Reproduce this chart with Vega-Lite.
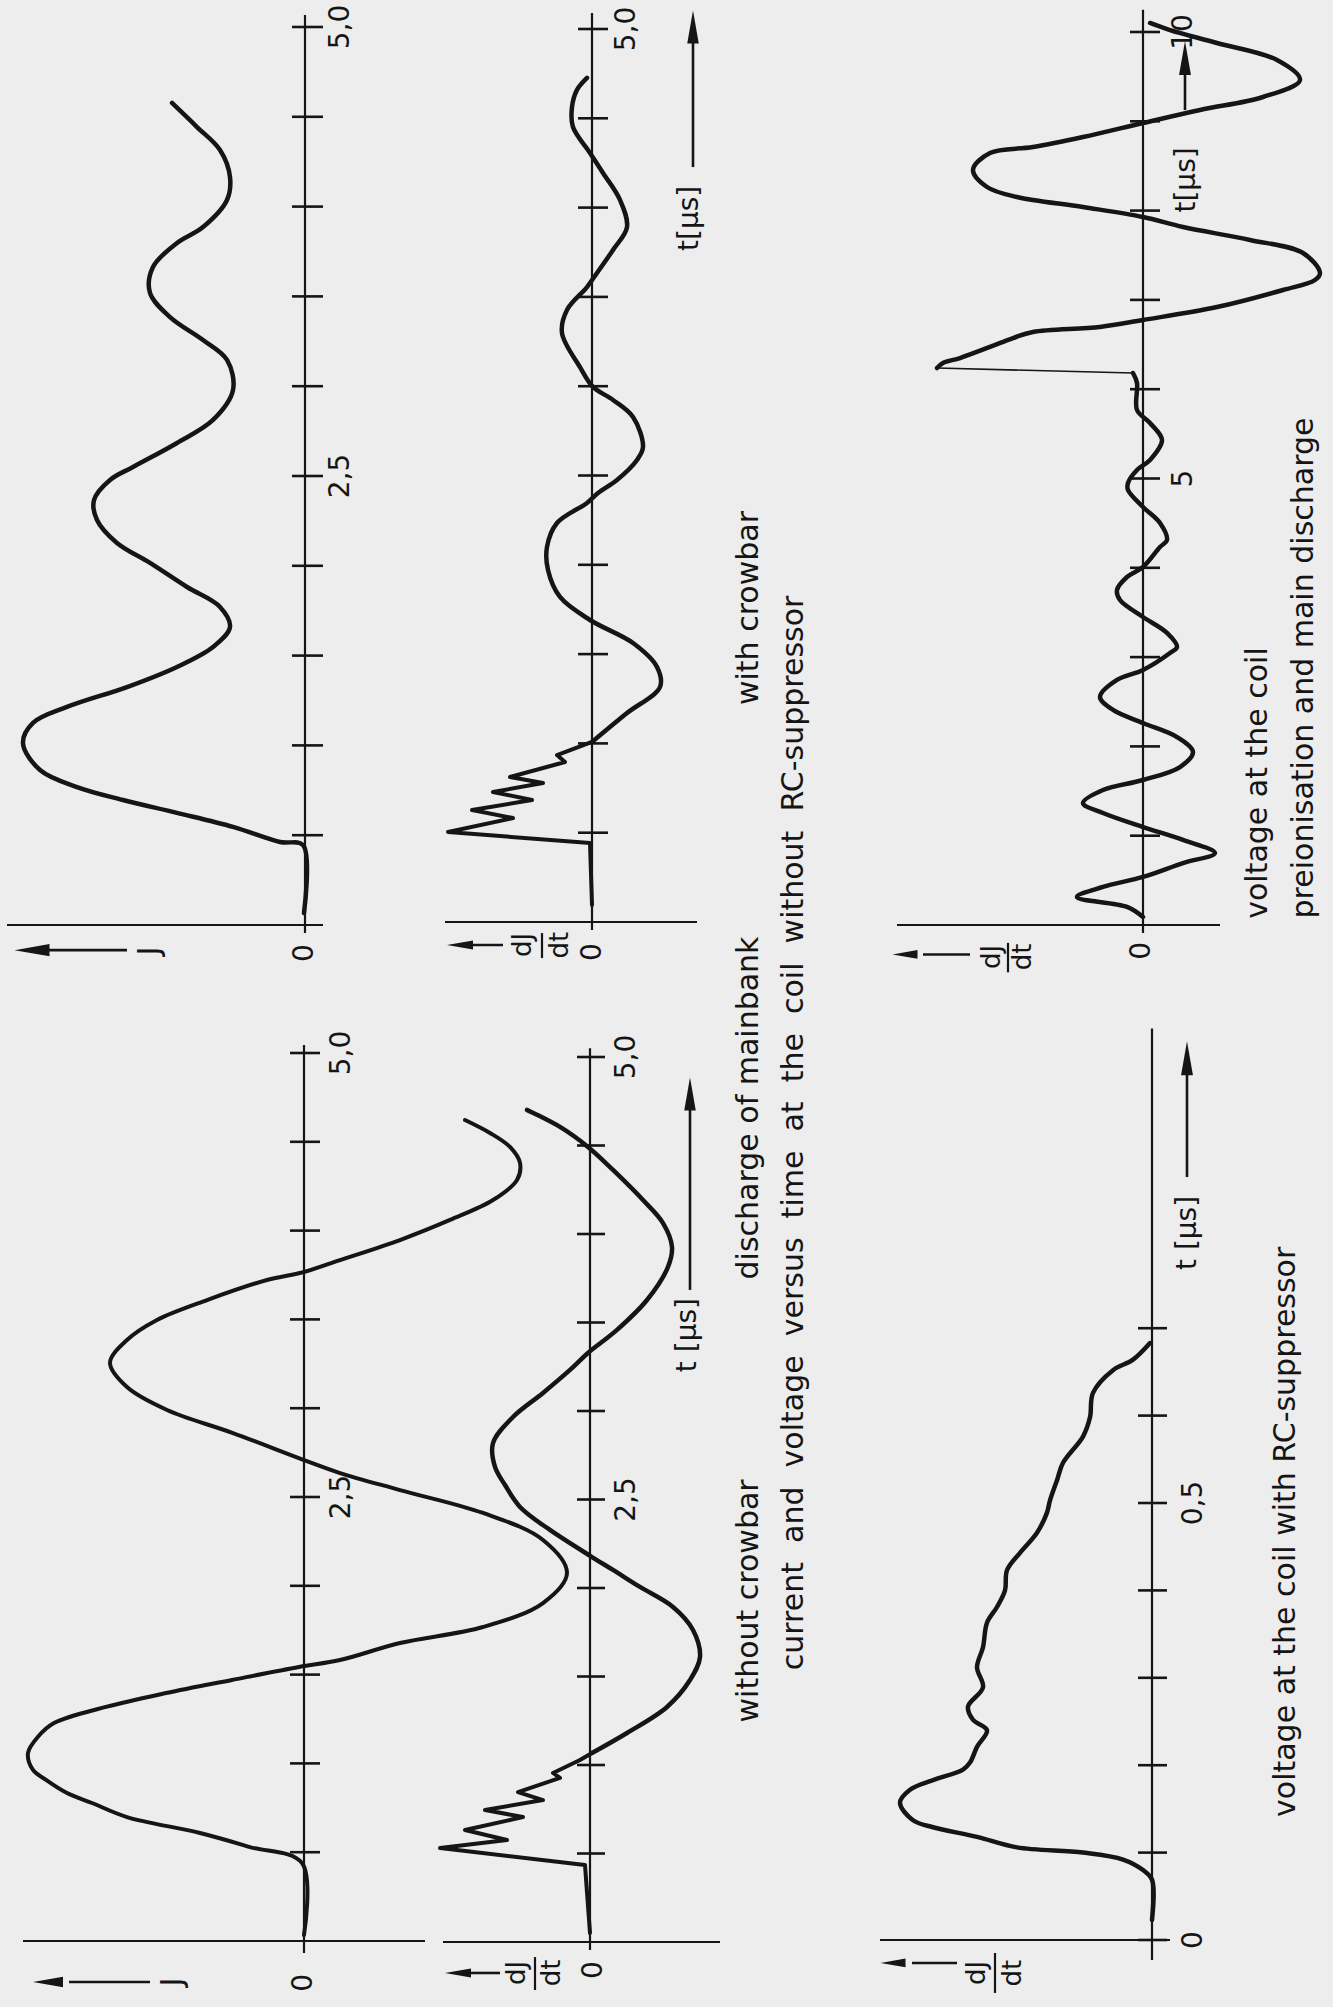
{
"$schema": "https://vega.github.io/schema/vega-lite/v6.json",
"width": 1333, "height": 2007, "padding": 0, "autosize": "none",
"background": "#ededed",
"config": {"view": {"stroke": null}},
"data": {"values": [{"k": 0}]},
"datasets": {
"p1": [{"t":0.067,"v":0.01},{"t":0.445,"v":0.02},{"t":0.462,"v":0.25},{"t":0.546,"v":0.72},{"t":0.624,"v":1.28},{"t":0.696,"v":1.82},{"t":0.768,"v":2.28},{"t":0.863,"v":2.65},{"t":1.013,"v":2.82},{"t":1.125,"v":2.72},{"t":1.214,"v":2.38},{"t":1.325,"v":1.78},{"t":1.437,"v":1.28},{"t":1.548,"v":0.92},{"t":1.659,"v":0.75},{"t":1.771,"v":0.85},{"t":1.882,"v":1.18},{"t":2.016,"v":1.55},{"t":2.127,"v":1.88},{"t":2.255,"v":2.08},{"t":2.366,"v":2.11},{"t":2.478,"v":1.95},{"t":2.55,"v":1.72},{"t":2.684,"v":1.28},{"t":2.812,"v":0.92},{"t":2.979,"v":0.72},{"t":3.146,"v":0.78},{"t":3.257,"v":1.02},{"t":3.385,"v":1.35},{"t":3.519,"v":1.55},{"t":3.664,"v":1.52},{"t":3.797,"v":1.28},{"t":3.886,"v":1.02},{"t":4.037,"v":0.78},{"t":4.165,"v":0.75},{"t":4.315,"v":0.85},{"t":4.443,"v":1.08},{"t":4.577,"v":1.33}],
"p2z": [{"t":0.095,"v":0},{"t":0.442,"v":0.02},{"t":0.504,"v":1.44},{"t":0.582,"v":0.79},{"t":0.627,"v":1.2},{"t":0.683,"v":0.6},{"t":0.728,"v":0.99},{"t":0.778,"v":0.49},{"t":0.812,"v":0.82},{"t":0.896,"v":0.27},{"t":0.935,"v":0.35},{"t":1.008,"v":0}],
"p2s": [{"t":1.008,"v":0},{"t":1.17,"v":-0.35},{"t":1.316,"v":-0.68},{"t":1.428,"v":-0.65},{"t":1.562,"v":-0.41},{"t":1.691,"v":0.02},{"t":1.82,"v":0.32},{"t":1.971,"v":0.44},{"t":2.1,"v":0.45},{"t":2.234,"v":0.35},{"t":2.346,"v":0.05},{"t":2.402,"v":-0.06},{"t":2.475,"v":-0.25},{"t":2.587,"v":-0.45},{"t":2.66,"v":-0.51},{"t":2.828,"v":-0.41},{"t":2.923,"v":-0.21},{"t":2.996,"v":-0.01},{"t":3.107,"v":0.12},{"t":3.298,"v":0.3},{"t":3.427,"v":0.25},{"t":3.555,"v":0.05},{"t":3.634,"v":-0.05},{"t":3.763,"v":-0.21},{"t":3.891,"v":-0.35},{"t":4.043,"v":-0.28},{"t":4.194,"v":-0.11},{"t":4.306,"v":0.02},{"t":4.451,"v":0.19},{"t":4.563,"v":0.2},{"t":4.659,"v":0.15},{"t":4.726,"v":0.05}],
"p3": [{"t":0.034,"v":0},{"t":0.439,"v":0.02},{"t":0.529,"v":0.54},{"t":0.608,"v":1.04},{"t":0.698,"v":1.77},{"t":0.777,"v":2.12},{"t":0.833,"v":2.37},{"t":0.907,"v":2.58},{"t":0.963,"v":2.71},{"t":1.059,"v":2.76},{"t":1.15,"v":2.66},{"t":1.227,"v":2.5},{"t":1.318,"v":1.98},{"t":1.396,"v":1.38},{"t":1.47,"v":0.72},{"t":1.543,"v":0.05},{"t":1.582,"v":-0.36},{"t":1.678,"v":-0.96},{"t":1.768,"v":-1.79},{"t":1.903,"v":-2.39},{"t":2.072,"v":-2.63},{"t":2.258,"v":-2.39},{"t":2.41,"v":-1.79},{"t":2.539,"v":-0.96},{"t":2.635,"v":-0.36},{"t":2.708,"v":0},{"t":2.86,"v":0.71},{"t":2.99,"v":1.37},{"t":3.119,"v":1.77},{"t":3.255,"v":1.94},{"t":3.384,"v":1.77},{"t":3.497,"v":1.47},{"t":3.609,"v":0.97},{"t":3.722,"v":0.37},{"t":3.767,"v":0},{"t":3.834,"v":-0.36},{"t":3.947,"v":-0.96},{"t":4.06,"v":-1.46},{"t":4.172,"v":-1.89},{"t":4.285,"v":-2.13},{"t":4.381,"v":-2.16},{"t":4.471,"v":-2.06},{"t":4.55,"v":-1.86},{"t":4.623,"v":-1.61}],
"p4z": [{"t":0.051,"v":0},{"t":0.435,"v":0.05},{"t":0.531,"v":1.5},{"t":0.576,"v":0.83},{"t":0.633,"v":1.25},{"t":0.706,"v":0.67},{"t":0.746,"v":1.05},{"t":0.802,"v":0.47},{"t":0.847,"v":0.72},{"t":0.927,"v":0.3},{"t":0.955,"v":0.37},{"t":1.028,"v":0.1},{"t":1.068,"v":-0.02}],
"p4s": [{"t":1.068,"v":-0.02},{"t":1.181,"v":-0.37},{"t":1.328,"v":-0.77},{"t":1.48,"v":-1.0},{"t":1.61,"v":-1.1},{"t":1.763,"v":-1.03},{"t":1.893,"v":-0.83},{"t":2.006,"v":-0.5},{"t":2.102,"v":-0.23},{"t":2.175,"v":-0.02},{"t":2.328,"v":0.4},{"t":2.458,"v":0.7},{"t":2.582,"v":0.85},{"t":2.684,"v":0.95},{"t":2.819,"v":0.97},{"t":2.966,"v":0.77},{"t":3.102,"v":0.47},{"t":3.232,"v":0.2},{"t":3.328,"v":0.02},{"t":3.458,"v":-0.27},{"t":3.627,"v":-0.57},{"t":3.814,"v":-0.78},{"t":3.927,"v":-0.82},{"t":4.062,"v":-0.73},{"t":4.192,"v":-0.53},{"t":4.362,"v":-0.23},{"t":4.492,"v":0.02},{"t":4.605,"v":0.3},{"t":4.701,"v":0.63}],
"p5": [{"seg":"pre","t":0.09,"v":0},{"seg":"pre","t":0.202,"v":0.16},{"seg":"pre","t":0.314,"v":0.66},{"seg":"pre","t":0.426,"v":0.4},{"seg":"pre","t":0.538,"v":0},{"seg":"pre","t":0.694,"v":-0.4},{"seg":"pre","t":0.806,"v":-0.72},{"seg":"pre","t":0.952,"v":-0.4},{"seg":"pre","t":1.097,"v":0},{"seg":"pre","t":1.254,"v":0.4},{"seg":"pre","t":1.366,"v":0.6},{"seg":"pre","t":1.512,"v":0.4},{"seg":"pre","t":1.624,"v":0},{"seg":"pre","t":1.769,"v":-0.37},{"seg":"pre","t":1.937,"v":-0.5},{"seg":"pre","t":2.105,"v":-0.34},{"seg":"pre","t":2.262,"v":0},{"seg":"pre","t":2.408,"v":0.3},{"seg":"pre","t":2.553,"v":0.43},{"seg":"pre","t":2.744,"v":0.26},{"seg":"pre","t":2.856,"v":0},{"seg":"pre","t":3.046,"v":-0.27},{"seg":"pre","t":3.113,"v":-0.34},{"seg":"pre","t":3.27,"v":-0.24},{"seg":"pre","t":3.449,"v":0},{"seg":"pre","t":3.639,"v":0.23},{"seg":"pre","t":3.751,"v":0.26},{"seg":"pre","t":3.897,"v":0.16},{"seg":"pre","t":4.009,"v":0},{"seg":"pre","t":4.233,"v":-0.17},{"seg":"pre","t":4.311,"v":-0.24},{"seg":"pre","t":4.502,"v":-0.17},{"seg":"pre","t":4.681,"v":0},{"seg":"pre","t":4.871,"v":0.15},{"seg":"pre","t":4.95,"v":0.15},{"seg":"pre","t":5.095,"v":0.06},{"seg":"pre","t":5.207,"v":-0.07},{"seg":"pre","t":5.431,"v":-0.19},{"seg":"pre","t":5.622,"v":-0.07},{"seg":"pre","t":5.767,"v":0.06},{"seg":"pre","t":6.069,"v":0.06},{"seg":"pre","t":6.181,"v":0.1},
{"seg":"main","t":6.237,"v":2.06},{"seg":"main","t":6.293,"v":2.0},{"seg":"main","t":6.349,"v":1.83},{"seg":"main","t":6.473,"v":1.53},{"seg":"main","t":6.573,"v":1.3},{"seg":"main","t":6.641,"v":1.1},{"seg":"main","t":6.697,"v":0.43},{"seg":"main","t":6.775,"v":0},{"seg":"main","t":6.92,"v":-0.74},{"seg":"main","t":7.111,"v":-1.4},{"seg":"main","t":7.223,"v":-1.72},{"seg":"main","t":7.301,"v":-1.77},{"seg":"main","t":7.525,"v":-1.6},{"seg":"main","t":7.671,"v":-1.07},{"seg":"main","t":7.816,"v":-0.4},{"seg":"main","t":7.928,"v":0},{"seg":"main","t":8.04,"v":0.6},{"seg":"main","t":8.152,"v":1.26},{"seg":"main","t":8.264,"v":1.56},{"seg":"main","t":8.455,"v":1.7},{"seg":"main","t":8.645,"v":1.53},{"seg":"main","t":8.712,"v":1.1},{"seg":"main","t":8.824,"v":0.6},{"seg":"main","t":8.981,"v":0},{"seg":"main","t":9.127,"v":-0.57},{"seg":"main","t":9.272,"v":-1.2},{"seg":"main","t":9.462,"v":-1.57},{"seg":"main","t":9.686,"v":-1.34},{"seg":"main","t":9.877,"v":-0.74},{"seg":"main","t":10.022,"v":-0.27},{"seg":"main","t":10.101,"v":-0.07}],
"p5j": [{"t":6.181,"v":0.1},{"t":6.237,"v":2.06}],
"p6": [{"t":0.023,"v":0},{"t":0.069,"v":0},{"t":0.08,"v":0.09},{"t":0.092,"v":0.29},{"t":0.1,"v":0.69},{"t":0.106,"v":1.35},{"t":0.118,"v":1.75},{"t":0.129,"v":2.19},{"t":0.137,"v":2.39},{"t":0.157,"v":2.52},{"t":0.172,"v":2.42},{"t":0.183,"v":2.19},{"t":0.195,"v":1.89},{"t":0.203,"v":1.82},{"t":0.221,"v":1.75},{"t":0.24,"v":1.65},{"t":0.252,"v":1.79},{"t":0.267,"v":1.84},{"t":0.289,"v":1.69},{"t":0.312,"v":1.75},{"t":0.335,"v":1.69},{"t":0.363,"v":1.65},{"t":0.381,"v":1.55},{"t":0.4,"v":1.47},{"t":0.423,"v":1.45},{"t":0.443,"v":1.32},{"t":0.466,"v":1.15},{"t":0.489,"v":1.05},{"t":0.503,"v":1.02},{"t":0.526,"v":0.95},{"t":0.546,"v":0.89},{"t":0.576,"v":0.69},{"t":0.598,"v":0.62},{"t":0.626,"v":0.59},{"t":0.652,"v":0.39},{"t":0.664,"v":0.19},{"t":0.683,"v":0.02}],
"kJ": [{"t":0.5,"label":""},{"t":1,"label":""},{"t":1.5,"label":""},{"t":2,"label":""},{"t":2.5,"label":"2,5"},{"t":3,"label":""},{"t":3.5,"label":""},{"t":4,"label":""},{"t":4.5,"label":""},{"t":5,"label":"5,0"}],
"kJ2": [{"t":0.5,"label":""},{"t":1,"label":""},{"t":1.5,"label":""},{"t":2,"label":""},{"t":2.5,"label":""},{"t":3,"label":""},{"t":3.5,"label":""},{"t":4,"label":""},{"t":4.5,"label":""},{"t":5,"label":"5,0"}],
"k5": [{"t":1,"label":""},{"t":2,"label":""},{"t":3,"label":""},{"t":4,"label":""},{"t":5,"label":"5"},{"t":6,"label":""},{"t":7,"label":""},{"t":8,"label":""},{"t":9,"label":""},{"t":10,"label":"10"}],
"k6": [{"t":0,"label":"0"},{"t":0.1,"label":""},{"t":0.2,"label":""},{"t":0.3,"label":""},{"t":0.4,"label":""},{"t":0.5,"label":"0,5"},{"t":0.6,"label":""},{"t":0.7,"label":""}]
},
"layer": [
 {"data":{"name":"p1"},"mark":{"type":"line","interpolate":"catmull-rom","color":"#151515","strokeWidth":4.5,"strokeCap":"round","strokeJoin":"round"},"encoding":{"x":{"field":"v","type":"quantitative","scale":{"domain":[-10.28,3.05],"reverse":true,"nice":false,"zero":false},"axis":null},"y":{"field":"t","type":"quantitative","scale":{"domain":[-6.0245,5.1503],"nice":false,"zero":false},"axis":null},"order":{"field":"t","type":"quantitative"}}},
 {"mark":{"type":"rule","color":"#151515","strokeWidth":2.2},"encoding":{"x":{"datum":0,"type":"quantitative","scale":{"domain":[-10.28,3.05],"reverse":true,"nice":false,"zero":false},"axis":null},"y":{"datum":-0.045,"type":"quantitative","scale":{"domain":[-6.0245,5.1503],"nice":false,"zero":false},"axis":null},"y2":{"datum":5.067}}},
 {"mark":{"type":"rule","color":"#151515","strokeWidth":2.2},"encoding":{"y":{"datum":0,"type":"quantitative","scale":{"domain":[-6.0245,5.1503],"nice":false,"zero":false},"axis":null},"x":{"datum":2.98,"type":"quantitative","scale":{"domain":[-10.28,3.05],"reverse":true,"nice":false,"zero":false},"axis":null},"x2":{"datum":-0.18}}},
 {"data":{"name":"kJ"},"mark":{"type":"rule","color":"#151515","strokeWidth":2.6},"encoding":{"y":{"field":"t","type":"quantitative","scale":{"domain":[-6.0245,5.1503],"nice":false,"zero":false},"axis":null},"x":{"datum":0.13,"type":"quantitative","scale":{"domain":[-10.28,3.05],"reverse":true,"nice":false,"zero":false},"axis":null},"x2":{"datum":-0.18}}},
 {"data":{"name":"kJ"},"mark":{"type":"text","angle":270,"font":"DejaVu Sans","fontSize":28,"color":"#151515","align":"center","baseline":"top"},"encoding":{"y":{"field":"t","type":"quantitative","scale":{"domain":[-6.0245,5.1503],"nice":false,"zero":false},"axis":null},"x":{"datum":-0.22,"type":"quantitative","scale":{"domain":[-10.28,3.05],"reverse":true,"nice":false,"zero":false},"axis":null},"text":{"field":"label","type":"nominal"}}},
 {"mark":{"type":"text","text":"0","angle":270,"font":"DejaVu Sans","fontSize":28,"color":"#151515","align":"center","baseline":"middle"},"encoding":{"x":{"datum":0,"type":"quantitative","scale":{"domain":[-10.28,3.05],"reverse":true,"nice":false,"zero":false},"axis":null},"y":{"datum":-0.156,"type":"quantitative","scale":{"domain":[-6.0245,5.1503],"nice":false,"zero":false},"axis":null}}},
 {"mark":{"type":"text","text":"J","angle":270,"font":"DejaVu Sans","fontSize":30,"color":"#151515","align":"center","baseline":"middle"},"encoding":{"x":{"datum":1.55,"type":"quantitative","scale":{"domain":[-10.28,3.05],"reverse":true,"nice":false,"zero":false},"axis":null},"y":{"datum":-0.145,"type":"quantitative","scale":{"domain":[-6.0245,5.1503],"nice":false,"zero":false},"axis":null}}},
 {"mark":{"type":"rule","color":"#151515","strokeWidth":2.6},"encoding":{"y":{"datum":-0.14,"type":"quantitative","scale":{"domain":[-6.0245,5.1503],"nice":false,"zero":false},"axis":null},"x":{"datum":1.78,"type":"quantitative","scale":{"domain":[-10.28,3.05],"reverse":true,"nice":false,"zero":false},"axis":null},"x2":{"datum":2.6}}},
 {"mark":{"type":"point","shape":"M-1,0L1,-0.35L1,0.35Z","size":1225,"filled":true,"color":"#151515","opacity":1},"encoding":{"x":{"datum":2.73,"type":"quantitative","scale":{"domain":[-10.28,3.05],"reverse":true,"nice":false,"zero":false},"axis":null},"y":{"datum":-0.14,"type":"quantitative","scale":{"domain":[-6.0245,5.1503],"nice":false,"zero":false},"axis":null}}},

 {"data":{"name":"p2z"},"mark":{"type":"line","color":"#151515","strokeWidth":4,"strokeCap":"round","strokeJoin":"round"},"encoding":{"x":{"field":"v","type":"quantitative","scale":{"domain":[-7.41,5.92],"reverse":true,"nice":false,"zero":false},"axis":null},"y":{"field":"t","type":"quantitative","scale":{"domain":[-6.075,5.1624],"nice":false,"zero":false},"axis":null},"order":{"field":"t","type":"quantitative"}}},
 {"data":{"name":"p2s"},"mark":{"type":"line","interpolate":"catmull-rom","color":"#151515","strokeWidth":4.5,"strokeCap":"round","strokeJoin":"round"},"encoding":{"x":{"field":"v","type":"quantitative","scale":{"domain":[-7.41,5.92],"reverse":true,"nice":false,"zero":false},"axis":null},"y":{"field":"t","type":"quantitative","scale":{"domain":[-6.075,5.1624],"nice":false,"zero":false},"axis":null},"order":{"field":"t","type":"quantitative"}}},
 {"mark":{"type":"rule","color":"#151515","strokeWidth":2.2},"encoding":{"x":{"datum":0,"type":"quantitative","scale":{"domain":[-7.41,5.92],"reverse":true,"nice":false,"zero":false},"axis":null},"y":{"datum":-0.045,"type":"quantitative","scale":{"domain":[-6.075,5.1624],"nice":false,"zero":false},"axis":null},"y2":{"datum":5.09}}},
 {"mark":{"type":"rule","color":"#151515","strokeWidth":2.2},"encoding":{"y":{"datum":0,"type":"quantitative","scale":{"domain":[-6.075,5.1624],"nice":false,"zero":false},"axis":null},"x":{"datum":1.47,"type":"quantitative","scale":{"domain":[-7.41,5.92],"reverse":true,"nice":false,"zero":false},"axis":null},"x2":{"datum":-1.05}}},
 {"data":{"name":"kJ2"},"mark":{"type":"rule","color":"#151515","strokeWidth":2.6},"encoding":{"y":{"field":"t","type":"quantitative","scale":{"domain":[-6.075,5.1624],"nice":false,"zero":false},"axis":null},"x":{"datum":0.14,"type":"quantitative","scale":{"domain":[-7.41,5.92],"reverse":true,"nice":false,"zero":false},"axis":null},"x2":{"datum":-0.16}}},
 {"data":{"name":"kJ2"},"mark":{"type":"text","angle":270,"font":"DejaVu Sans","fontSize":28,"color":"#151515","align":"center","baseline":"top"},"encoding":{"y":{"field":"t","type":"quantitative","scale":{"domain":[-6.075,5.1624],"nice":false,"zero":false},"axis":null},"x":{"datum":-0.21,"type":"quantitative","scale":{"domain":[-7.41,5.92],"reverse":true,"nice":false,"zero":false},"axis":null},"text":{"field":"label","type":"nominal"}}},
 {"mark":{"type":"text","text":"0","angle":270,"font":"DejaVu Sans","fontSize":28,"color":"#151515","align":"center","baseline":"middle"},"encoding":{"x":{"datum":-0.01,"type":"quantitative","scale":{"domain":[-7.41,5.92],"reverse":true,"nice":false,"zero":false},"axis":null},"y":{"datum":-0.168,"type":"quantitative","scale":{"domain":[-6.075,5.1624],"nice":false,"zero":false},"axis":null}}},
 {"mark":{"type":"text","text":"dJ","angle":270,"font":"DejaVu Sans","fontSize":26,"color":"#151515","align":"center","baseline":"middle"},"encoding":{"x":{"datum":0.69,"type":"quantitative","scale":{"domain":[-7.41,5.92],"reverse":true,"nice":false,"zero":false},"axis":null},"y":{"datum":-0.129,"type":"quantitative","scale":{"domain":[-6.075,5.1624],"nice":false,"zero":false},"axis":null}}},
 {"mark":{"type":"text","text":"dt","angle":270,"font":"DejaVu Sans","fontSize":26,"color":"#151515","align":"center","baseline":"middle"},"encoding":{"x":{"datum":0.32,"type":"quantitative","scale":{"domain":[-7.41,5.92],"reverse":true,"nice":false,"zero":false},"axis":null},"y":{"datum":-0.129,"type":"quantitative","scale":{"domain":[-6.075,5.1624],"nice":false,"zero":false},"axis":null}}},
 {"mark":{"type":"rule","color":"#151515","strokeWidth":2.2},"encoding":{"x":{"datum":0.5,"type":"quantitative","scale":{"domain":[-7.41,5.92],"reverse":true,"nice":false,"zero":false},"axis":null},"y":{"datum":-0.062,"type":"quantitative","scale":{"domain":[-6.075,5.1624],"nice":false,"zero":false},"axis":null},"y2":{"datum":-0.202}}},
 {"mark":{"type":"rule","color":"#151515","strokeWidth":2.6},"encoding":{"y":{"datum":-0.129,"type":"quantitative","scale":{"domain":[-6.075,5.1624],"nice":false,"zero":false},"axis":null},"x":{"datum":0.89,"type":"quantitative","scale":{"domain":[-7.41,5.92],"reverse":true,"nice":false,"zero":false},"axis":null},"x2":{"datum":1.22}}},
 {"mark":{"type":"point","shape":"M-1,0L1,-0.35L1,0.35Z","size":676,"filled":true,"color":"#151515","opacity":1},"encoding":{"x":{"datum":1.32,"type":"quantitative","scale":{"domain":[-7.41,5.92],"reverse":true,"nice":false,"zero":false},"axis":null},"y":{"datum":-0.129,"type":"quantitative","scale":{"domain":[-6.075,5.1624],"nice":false,"zero":false},"axis":null}}},
 {"mark":{"type":"text","text":"t[µs]","angle":270,"font":"DejaVu Sans","fontSize":28,"color":"#151515","align":"center","baseline":"middle"},"encoding":{"x":{"datum":-0.98,"type":"quantitative","scale":{"domain":[-7.41,5.92],"reverse":true,"nice":false,"zero":false},"axis":null},"y":{"datum":3.94,"type":"quantitative","scale":{"domain":[-6.075,5.1624],"nice":false,"zero":false},"axis":null}}},
 {"mark":{"type":"rule","color":"#151515","strokeWidth":2.6},"encoding":{"x":{"datum":-1.01,"type":"quantitative","scale":{"domain":[-7.41,5.92],"reverse":true,"nice":false,"zero":false},"axis":null},"y":{"datum":4.227,"type":"quantitative","scale":{"domain":[-6.075,5.1624],"nice":false,"zero":false},"axis":null},"y2":{"datum":4.93}}},
 {"mark":{"type":"point","shape":"M0,-1L0.35,1L-0.35,1Z","size":1089,"filled":true,"color":"#151515","opacity":1},"encoding":{"x":{"datum":-1.01,"type":"quantitative","scale":{"domain":[-7.41,5.92],"reverse":true,"nice":false,"zero":false},"axis":null},"y":{"datum":5.011,"type":"quantitative","scale":{"domain":[-6.075,5.1624],"nice":false,"zero":false},"axis":null}}},
 {"mark":{"type":"text","text":"with crowbar","angle":270,"font":"DejaVu Sans","fontSize":30,"color":"#151515","align":"center","baseline":"middle"},"encoding":{"x":{"datum":-1.57,"type":"quantitative","scale":{"domain":[-7.41,5.92],"reverse":true,"nice":false,"zero":false},"axis":null},"y":{"datum":1.758,"type":"quantitative","scale":{"domain":[-6.075,5.1624],"nice":false,"zero":false},"axis":null}}},

 {"data":{"name":"p3"},"mark":{"type":"line","interpolate":"catmull-rom","color":"#151515","strokeWidth":4,"strokeCap":"round","strokeJoin":"round"},"encoding":{"x":{"field":"v","type":"quantitative","scale":{"domain":[-10.29,3.04],"reverse":true,"nice":false,"zero":false},"axis":null},"y":{"field":"t","type":"quantitative","scale":{"domain":[-0.3716,10.9291],"nice":false,"zero":false},"axis":null},"order":{"field":"t","type":"quantitative"}}},
 {"mark":{"type":"rule","color":"#151515","strokeWidth":2.2},"encoding":{"x":{"datum":0,"type":"quantitative","scale":{"domain":[-10.29,3.04],"reverse":true,"nice":false,"zero":false},"axis":null},"y":{"datum":-0.068,"type":"quantitative","scale":{"domain":[-0.3716,10.9291],"nice":false,"zero":false},"axis":null},"y2":{"datum":5.045}}},
 {"mark":{"type":"rule","color":"#151515","strokeWidth":2.2},"encoding":{"y":{"datum":0,"type":"quantitative","scale":{"domain":[-0.3716,10.9291],"nice":false,"zero":false},"axis":null},"x":{"datum":2.81,"type":"quantitative","scale":{"domain":[-10.29,3.04],"reverse":true,"nice":false,"zero":false},"axis":null},"x2":{"datum":-1.21}}},
 {"data":{"name":"kJ"},"mark":{"type":"rule","color":"#151515","strokeWidth":2.6},"encoding":{"y":{"field":"t","type":"quantitative","scale":{"domain":[-0.3716,10.9291],"nice":false,"zero":false},"axis":null},"x":{"datum":0.14,"type":"quantitative","scale":{"domain":[-10.29,3.04],"reverse":true,"nice":false,"zero":false},"axis":null},"x2":{"datum":-0.16}}},
 {"data":{"name":"kJ"},"mark":{"type":"text","angle":270,"font":"DejaVu Sans","fontSize":28,"color":"#151515","align":"center","baseline":"top"},"encoding":{"y":{"field":"t","type":"quantitative","scale":{"domain":[-0.3716,10.9291],"nice":false,"zero":false},"axis":null},"x":{"datum":-0.24,"type":"quantitative","scale":{"domain":[-10.29,3.04],"reverse":true,"nice":false,"zero":false},"axis":null},"text":{"field":"label","type":"nominal"}}},
 {"mark":{"type":"text","text":"0","angle":270,"font":"DejaVu Sans","fontSize":28,"color":"#151515","align":"center","baseline":"middle"},"encoding":{"x":{"datum":0,"type":"quantitative","scale":{"domain":[-10.29,3.04],"reverse":true,"nice":false,"zero":false},"axis":null},"y":{"datum":-0.236,"type":"quantitative","scale":{"domain":[-0.3716,10.9291],"nice":false,"zero":false},"axis":null}}},
 {"mark":{"type":"text","text":"J","angle":270,"font":"DejaVu Sans","fontSize":30,"color":"#151515","align":"center","baseline":"middle"},"encoding":{"x":{"datum":1.31,"type":"quantitative","scale":{"domain":[-10.29,3.04],"reverse":true,"nice":false,"zero":false},"axis":null},"y":{"datum":-0.231,"type":"quantitative","scale":{"domain":[-0.3716,10.9291],"nice":false,"zero":false},"axis":null}}},
 {"mark":{"type":"rule","color":"#151515","strokeWidth":2.6},"encoding":{"y":{"datum":-0.231,"type":"quantitative","scale":{"domain":[-0.3716,10.9291],"nice":false,"zero":false},"axis":null},"x":{"datum":1.54,"type":"quantitative","scale":{"domain":[-10.29,3.04],"reverse":true,"nice":false,"zero":false},"axis":null},"x2":{"datum":2.35}}},
 {"mark":{"type":"point","shape":"M-1,0L1,-0.35L1,0.35Z","size":900,"filled":true,"color":"#151515","opacity":1},"encoding":{"x":{"datum":2.56,"type":"quantitative","scale":{"domain":[-10.29,3.04],"reverse":true,"nice":false,"zero":false},"axis":null},"y":{"datum":-0.231,"type":"quantitative","scale":{"domain":[-0.3716,10.9291],"nice":false,"zero":false},"axis":null}}},

 {"data":{"name":"p4z"},"mark":{"type":"line","color":"#151515","strokeWidth":4,"strokeCap":"round","strokeJoin":"round"},"encoding":{"x":{"field":"v","type":"quantitative","scale":{"domain":[-7.43,5.9],"reverse":true,"nice":false,"zero":false},"axis":null},"y":{"field":"t","type":"quantitative","scale":{"domain":[-0.3672,10.9718],"nice":false,"zero":false},"axis":null},"order":{"field":"t","type":"quantitative"}}},
 {"data":{"name":"p4s"},"mark":{"type":"line","interpolate":"catmull-rom","color":"#151515","strokeWidth":4.5,"strokeCap":"round","strokeJoin":"round"},"encoding":{"x":{"field":"v","type":"quantitative","scale":{"domain":[-7.43,5.9],"reverse":true,"nice":false,"zero":false},"axis":null},"y":{"field":"t","type":"quantitative","scale":{"domain":[-0.3672,10.9718],"nice":false,"zero":false},"axis":null},"order":{"field":"t","type":"quantitative"}}},
 {"mark":{"type":"rule","color":"#151515","strokeWidth":2.2},"encoding":{"x":{"datum":0,"type":"quantitative","scale":{"domain":[-7.43,5.9],"reverse":true,"nice":false,"zero":false},"axis":null},"y":{"datum":-0.045,"type":"quantitative","scale":{"domain":[-0.3672,10.9718],"nice":false,"zero":false},"axis":null},"y2":{"datum":5.05}}},
 {"mark":{"type":"rule","color":"#151515","strokeWidth":2.2},"encoding":{"y":{"datum":0,"type":"quantitative","scale":{"domain":[-0.3672,10.9718],"nice":false,"zero":false},"axis":null},"x":{"datum":1.47,"type":"quantitative","scale":{"domain":[-7.43,5.9],"reverse":true,"nice":false,"zero":false},"axis":null},"x2":{"datum":-1.3}}},
 {"data":{"name":"kJ"},"mark":{"type":"rule","color":"#151515","strokeWidth":2.6},"encoding":{"y":{"field":"t","type":"quantitative","scale":{"domain":[-0.3672,10.9718],"nice":false,"zero":false},"axis":null},"x":{"datum":0.13,"type":"quantitative","scale":{"domain":[-7.43,5.9],"reverse":true,"nice":false,"zero":false},"axis":null},"x2":{"datum":-0.15}}},
 {"data":{"name":"kJ"},"mark":{"type":"text","angle":270,"font":"DejaVu Sans","fontSize":28,"color":"#151515","align":"center","baseline":"top"},"encoding":{"y":{"field":"t","type":"quantitative","scale":{"domain":[-0.3672,10.9718],"nice":false,"zero":false},"axis":null},"x":{"datum":-0.23,"type":"quantitative","scale":{"domain":[-7.43,5.9],"reverse":true,"nice":false,"zero":false},"axis":null},"text":{"field":"label","type":"nominal"}}},
 {"mark":{"type":"text","text":"0","angle":270,"font":"DejaVu Sans","fontSize":28,"color":"#151515","align":"center","baseline":"middle"},"encoding":{"x":{"datum":-0.04,"type":"quantitative","scale":{"domain":[-7.43,5.9],"reverse":true,"nice":false,"zero":false},"axis":null},"y":{"datum":-0.158,"type":"quantitative","scale":{"domain":[-0.3672,10.9718],"nice":false,"zero":false},"axis":null}}},
 {"mark":{"type":"text","text":"dJ","angle":270,"font":"DejaVu Sans","fontSize":26,"color":"#151515","align":"center","baseline":"middle"},"encoding":{"x":{"datum":0.73,"type":"quantitative","scale":{"domain":[-7.43,5.9],"reverse":true,"nice":false,"zero":false},"axis":null},"y":{"datum":-0.175,"type":"quantitative","scale":{"domain":[-0.3672,10.9718],"nice":false,"zero":false},"axis":null}}},
 {"mark":{"type":"text","text":"dt","angle":270,"font":"DejaVu Sans","fontSize":26,"color":"#151515","align":"center","baseline":"middle"},"encoding":{"x":{"datum":0.38,"type":"quantitative","scale":{"domain":[-7.43,5.9],"reverse":true,"nice":false,"zero":false},"axis":null},"y":{"datum":-0.175,"type":"quantitative","scale":{"domain":[-0.3672,10.9718],"nice":false,"zero":false},"axis":null}}},
 {"mark":{"type":"rule","color":"#151515","strokeWidth":2.2},"encoding":{"x":{"datum":0.55,"type":"quantitative","scale":{"domain":[-7.43,5.9],"reverse":true,"nice":false,"zero":false},"axis":null},"y":{"datum":-0.085,"type":"quantitative","scale":{"domain":[-0.3672,10.9718],"nice":false,"zero":false},"axis":null},"y2":{"datum":-0.271}}},
 {"mark":{"type":"rule","color":"#151515","strokeWidth":2.6},"encoding":{"y":{"datum":-0.175,"type":"quantitative","scale":{"domain":[-0.3672,10.9718],"nice":false,"zero":false},"axis":null},"x":{"datum":0.9,"type":"quantitative","scale":{"domain":[-7.43,5.9],"reverse":true,"nice":false,"zero":false},"axis":null},"x2":{"datum":1.22}}},
 {"mark":{"type":"point","shape":"M-1,0L1,-0.35L1,0.35Z","size":676,"filled":true,"color":"#151515","opacity":1},"encoding":{"x":{"datum":1.32,"type":"quantitative","scale":{"domain":[-7.43,5.9],"reverse":true,"nice":false,"zero":false},"axis":null},"y":{"datum":-0.175,"type":"quantitative","scale":{"domain":[-0.3672,10.9718],"nice":false,"zero":false},"axis":null}}},
 {"mark":{"type":"text","text":"t [µs]","angle":270,"font":"DejaVu Sans","fontSize":28,"color":"#151515","align":"center","baseline":"middle"},"encoding":{"x":{"datum":-0.98,"type":"quantitative","scale":{"domain":[-7.43,5.9],"reverse":true,"nice":false,"zero":false},"axis":null},"y":{"datum":3.429,"type":"quantitative","scale":{"domain":[-0.3672,10.9718],"nice":false,"zero":false},"axis":null}}},
 {"mark":{"type":"rule","color":"#151515","strokeWidth":2.6},"encoding":{"x":{"datum":-1.0,"type":"quantitative","scale":{"domain":[-7.43,5.9],"reverse":true,"nice":false,"zero":false},"axis":null},"y":{"datum":3.684,"type":"quantitative","scale":{"domain":[-0.3672,10.9718],"nice":false,"zero":false},"axis":null},"y2":{"datum":4.72}}},
 {"mark":{"type":"point","shape":"M0,-1L0.35,1L-0.35,1Z","size":1089,"filled":true,"color":"#151515","opacity":1},"encoding":{"x":{"datum":-1.0,"type":"quantitative","scale":{"domain":[-7.43,5.9],"reverse":true,"nice":false,"zero":false},"axis":null},"y":{"datum":4.791,"type":"quantitative","scale":{"domain":[-0.3672,10.9718],"nice":false,"zero":false},"axis":null}}},
 {"mark":{"type":"text","text":"discharge of mainbank","angle":270,"font":"DejaVu Sans","fontSize":30,"color":"#151515","align":"center","baseline":"middle"},"encoding":{"x":{"datum":-1.59,"type":"quantitative","scale":{"domain":[-7.43,5.9],"reverse":true,"nice":false,"zero":false},"axis":null},"y":{"datum":4.712,"type":"quantitative","scale":{"domain":[-0.3672,10.9718],"nice":false,"zero":false},"axis":null}}},
 {"mark":{"type":"text","text":"without crowbar","angle":270,"font":"DejaVu Sans","fontSize":30,"color":"#151515","align":"center","baseline":"middle"},"encoding":{"x":{"datum":-1.59,"type":"quantitative","scale":{"domain":[-7.43,5.9],"reverse":true,"nice":false,"zero":false},"axis":null},"y":{"datum":1.927,"type":"quantitative","scale":{"domain":[-0.3672,10.9718],"nice":false,"zero":false},"axis":null}}},
 {"mark":{"type":"text","text":"current\u00a0 and\u00a0 voltage\u00a0 versus\u00a0 time\u00a0 at\u00a0 the\u00a0 coil\u00a0 without\u00a0 RC-suppressor","angle":270,"font":"DejaVu Sans","fontSize":30,"color":"#151515","align":"center","baseline":"middle"},"encoding":{"x":{"datum":-2.04,"type":"quantitative","scale":{"domain":[-7.43,5.9],"reverse":true,"nice":false,"zero":false},"axis":null},"y":{"datum":4.571,"type":"quantitative","scale":{"domain":[-0.3672,10.9718],"nice":false,"zero":false},"axis":null}}},

 {"data":{"name":"p5"},"mark":{"type":"line","interpolate":"catmull-rom","color":"#151515","strokeWidth":4.5,"strokeCap":"round","strokeJoin":"round"},"encoding":{"x":{"field":"v","type":"quantitative","scale":{"domain":[-1.9,11.43],"reverse":true,"nice":false,"zero":false},"axis":null},"y":{"field":"t","type":"quantitative","scale":{"domain":[-12.1165,10.3583],"nice":false,"zero":false},"axis":null},"order":{"field":"t","type":"quantitative"},"detail":{"field":"seg","type":"nominal"}}},
 {"data":{"name":"p5j"},"mark":{"type":"line","color":"#151515","strokeWidth":1.6},"encoding":{"x":{"field":"v","type":"quantitative","scale":{"domain":[-1.9,11.43],"reverse":true,"nice":false,"zero":false},"axis":null},"y":{"field":"t","type":"quantitative","scale":{"domain":[-12.1165,10.3583],"nice":false,"zero":false},"axis":null},"order":{"field":"t","type":"quantitative"}}},
 {"mark":{"type":"rule","color":"#151515","strokeWidth":2.2},"encoding":{"x":{"datum":0,"type":"quantitative","scale":{"domain":[-1.9,11.43],"reverse":true,"nice":false,"zero":false},"axis":null},"y":{"datum":-0.09,"type":"quantitative","scale":{"domain":[-12.1165,10.3583],"nice":false,"zero":false},"axis":null},"y2":{"datum":10.25}}},
 {"mark":{"type":"rule","color":"#151515","strokeWidth":2.2},"encoding":{"y":{"datum":0,"type":"quantitative","scale":{"domain":[-12.1165,10.3583],"nice":false,"zero":false},"axis":null},"x":{"datum":2.46,"type":"quantitative","scale":{"domain":[-1.9,11.43],"reverse":true,"nice":false,"zero":false},"axis":null},"x2":{"datum":-0.77}}},
 {"data":{"name":"k5"},"mark":{"type":"rule","color":"#151515","strokeWidth":2.6},"encoding":{"y":{"field":"t","type":"quantitative","scale":{"domain":[-12.1165,10.3583],"nice":false,"zero":false},"axis":null},"x":{"datum":0.13,"type":"quantitative","scale":{"domain":[-1.9,11.43],"reverse":true,"nice":false,"zero":false},"axis":null},"x2":{"datum":-0.17}}},
 {"data":{"name":"k5"},"mark":{"type":"text","angle":270,"font":"DejaVu Sans","fontSize":28,"color":"#151515","align":"center","baseline":"top"},"encoding":{"y":{"field":"t","type":"quantitative","scale":{"domain":[-12.1165,10.3583],"nice":false,"zero":false},"axis":null},"x":{"datum":-0.27,"type":"quantitative","scale":{"domain":[-1.9,11.43],"reverse":true,"nice":false,"zero":false},"axis":null},"text":{"field":"label","type":"nominal"}}},
 {"mark":{"type":"text","text":"0","angle":270,"font":"DejaVu Sans","fontSize":28,"color":"#151515","align":"center","baseline":"middle"},"encoding":{"x":{"datum":0.01,"type":"quantitative","scale":{"domain":[-1.9,11.43],"reverse":true,"nice":false,"zero":false},"axis":null},"y":{"datum":-0.29,"type":"quantitative","scale":{"domain":[-12.1165,10.3583],"nice":false,"zero":false},"axis":null}}},
 {"mark":{"type":"text","text":"dJ","angle":270,"font":"DejaVu Sans","fontSize":26,"color":"#151515","align":"center","baseline":"middle"},"encoding":{"x":{"datum":1.51,"type":"quantitative","scale":{"domain":[-1.9,11.43],"reverse":true,"nice":false,"zero":false},"axis":null},"y":{"datum":-0.358,"type":"quantitative","scale":{"domain":[-12.1165,10.3583],"nice":false,"zero":false},"axis":null}}},
 {"mark":{"type":"text","text":"dt","angle":270,"font":"DejaVu Sans","fontSize":26,"color":"#151515","align":"center","baseline":"middle"},"encoding":{"x":{"datum":1.2,"type":"quantitative","scale":{"domain":[-1.9,11.43],"reverse":true,"nice":false,"zero":false},"axis":null},"y":{"datum":-0.358,"type":"quantitative","scale":{"domain":[-12.1165,10.3583],"nice":false,"zero":false},"axis":null}}},
 {"mark":{"type":"rule","color":"#151515","strokeWidth":2.2},"encoding":{"x":{"datum":1.35,"type":"quantitative","scale":{"domain":[-1.9,11.43],"reverse":true,"nice":false,"zero":false},"axis":null},"y":{"datum":-0.2,"type":"quantitative","scale":{"domain":[-12.1165,10.3583],"nice":false,"zero":false},"axis":null},"y2":{"datum":-0.53}}},
 {"mark":{"type":"rule","color":"#151515","strokeWidth":2.6},"encoding":{"y":{"datum":-0.33,"type":"quantitative","scale":{"domain":[-12.1165,10.3583],"nice":false,"zero":false},"axis":null},"x":{"datum":1.73,"type":"quantitative","scale":{"domain":[-1.9,11.43],"reverse":true,"nice":false,"zero":false},"axis":null},"x2":{"datum":2.2}}},
 {"mark":{"type":"point","shape":"M-1,0L1,-0.35L1,0.35Z","size":625,"filled":true,"color":"#151515","opacity":1},"encoding":{"x":{"datum":2.38,"type":"quantitative","scale":{"domain":[-1.9,11.43],"reverse":true,"nice":false,"zero":false},"axis":null},"y":{"datum":-0.33,"type":"quantitative","scale":{"domain":[-12.1165,10.3583],"nice":false,"zero":false},"axis":null}}},
 {"mark":{"type":"text","text":"t[µs]","angle":270,"font":"DejaVu Sans","fontSize":28,"color":"#151515","align":"center","baseline":"middle"},"encoding":{"x":{"datum":-0.44,"type":"quantitative","scale":{"domain":[-1.9,11.43],"reverse":true,"nice":false,"zero":false},"axis":null},"y":{"datum":8.343,"type":"quantitative","scale":{"domain":[-12.1165,10.3583],"nice":false,"zero":false},"axis":null}}},
 {"mark":{"type":"rule","color":"#151515","strokeWidth":2.6},"encoding":{"x":{"datum":-0.42,"type":"quantitative","scale":{"domain":[-1.9,11.43],"reverse":true,"nice":false,"zero":false},"axis":null},"y":{"datum":9.126,"type":"quantitative","scale":{"domain":[-12.1165,10.3583],"nice":false,"zero":false},"axis":null},"y2":{"datum":9.55}}},
 {"mark":{"type":"point","shape":"M0,-1L0.35,1L-0.35,1Z","size":1156,"filled":true,"color":"#151515","opacity":1},"encoding":{"x":{"datum":-0.42,"type":"quantitative","scale":{"domain":[-1.9,11.43],"reverse":true,"nice":false,"zero":false},"axis":null},"y":{"datum":9.709,"type":"quantitative","scale":{"domain":[-12.1165,10.3583],"nice":false,"zero":false},"axis":null}}},
 {"mark":{"type":"text","text":"voltage at the coil","angle":270,"font":"DejaVu Sans","fontSize":30,"color":"#151515","align":"center","baseline":"middle"},"encoding":{"x":{"datum":-1.15,"type":"quantitative","scale":{"domain":[-1.9,11.43],"reverse":true,"nice":false,"zero":false},"axis":null},"y":{"datum":1.59,"type":"quantitative","scale":{"domain":[-12.1165,10.3583],"nice":false,"zero":false},"axis":null}}},
 {"mark":{"type":"text","text":"preionisation and main discharge","angle":270,"font":"DejaVu Sans","fontSize":30,"color":"#151515","align":"center","baseline":"middle"},"encoding":{"x":{"datum":-1.61,"type":"quantitative","scale":{"domain":[-1.9,11.43],"reverse":true,"nice":false,"zero":false},"axis":null},"y":{"datum":2.878,"type":"quantitative","scale":{"domain":[-12.1165,10.3583],"nice":false,"zero":false},"axis":null}}},

 {"data":{"name":"p6"},"mark":{"type":"line","interpolate":"catmull-rom","color":"#151515","strokeWidth":4.5,"strokeCap":"round","strokeJoin":"round"},"encoding":{"x":{"field":"v","type":"quantitative","scale":{"domain":[-1.81,11.52],"reverse":true,"nice":false,"zero":false},"axis":null},"y":{"field":"t","type":"quantitative","scale":{"domain":[-0.07666,2.21968],"nice":false,"zero":false},"axis":null},"order":{"field":"t","type":"quantitative"}}},
 {"mark":{"type":"rule","color":"#151515","strokeWidth":2.2},"encoding":{"x":{"datum":0,"type":"quantitative","scale":{"domain":[-1.81,11.52],"reverse":true,"nice":false,"zero":false},"axis":null},"y":{"datum":-0.023,"type":"quantitative","scale":{"domain":[-0.07666,2.21968],"nice":false,"zero":false},"axis":null},"y2":{"datum":1.043}}},
 {"mark":{"type":"rule","color":"#151515","strokeWidth":2.2},"encoding":{"y":{"datum":0,"type":"quantitative","scale":{"domain":[-0.07666,2.21968],"nice":false,"zero":false},"axis":null},"x":{"datum":2.72,"type":"quantitative","scale":{"domain":[-1.81,11.52],"reverse":true,"nice":false,"zero":false},"axis":null},"x2":{"datum":-0.18}}},
 {"data":{"name":"k6"},"mark":{"type":"rule","color":"#151515","strokeWidth":2.6},"encoding":{"y":{"field":"t","type":"quantitative","scale":{"domain":[-0.07666,2.21968],"nice":false,"zero":false},"axis":null},"x":{"datum":0.14,"type":"quantitative","scale":{"domain":[-1.81,11.52],"reverse":true,"nice":false,"zero":false},"axis":null},"x2":{"datum":-0.15}}},
 {"data":{"name":"k6"},"mark":{"type":"text","angle":270,"font":"DejaVu Sans","fontSize":28,"color":"#151515","align":"center","baseline":"top"},"encoding":{"y":{"field":"t","type":"quantitative","scale":{"domain":[-0.07666,2.21968],"nice":false,"zero":false},"axis":null},"x":{"datum":-0.28,"type":"quantitative","scale":{"domain":[-1.81,11.52],"reverse":true,"nice":false,"zero":false},"axis":null},"text":{"field":"label","type":"nominal"}}},
 {"mark":{"type":"text","text":"dJ","angle":270,"font":"DejaVu Sans","fontSize":26,"color":"#151515","align":"center","baseline":"middle"},"encoding":{"x":{"datum":1.75,"type":"quantitative","scale":{"domain":[-1.81,11.52],"reverse":true,"nice":false,"zero":false},"axis":null},"y":{"datum":-0.0378,"type":"quantitative","scale":{"domain":[-0.07666,2.21968],"nice":false,"zero":false},"axis":null}}},
 {"mark":{"type":"text","text":"dt","angle":270,"font":"DejaVu Sans","fontSize":26,"color":"#151515","align":"center","baseline":"middle"},"encoding":{"x":{"datum":1.39,"type":"quantitative","scale":{"domain":[-1.81,11.52],"reverse":true,"nice":false,"zero":false},"axis":null},"y":{"datum":-0.0378,"type":"quantitative","scale":{"domain":[-0.07666,2.21968],"nice":false,"zero":false},"axis":null}}},
 {"mark":{"type":"rule","color":"#151515","strokeWidth":2.2},"encoding":{"x":{"datum":1.57,"type":"quantitative","scale":{"domain":[-1.81,11.52],"reverse":true,"nice":false,"zero":false},"axis":null},"y":{"datum":-0.0149,"type":"quantitative","scale":{"domain":[-0.07666,2.21968],"nice":false,"zero":false},"axis":null},"y2":{"datum":-0.0606}}},
 {"mark":{"type":"rule","color":"#151515","strokeWidth":2.6},"encoding":{"y":{"datum":-0.0263,"type":"quantitative","scale":{"domain":[-0.07666,2.21968],"nice":false,"zero":false},"axis":null},"x":{"datum":1.95,"type":"quantitative","scale":{"domain":[-1.81,11.52],"reverse":true,"nice":false,"zero":false},"axis":null},"x2":{"datum":2.4}}},
 {"mark":{"type":"point","shape":"M-1,0L1,-0.35L1,0.35Z","size":625,"filled":true,"color":"#151515","opacity":1},"encoding":{"x":{"datum":2.59,"type":"quantitative","scale":{"domain":[-1.81,11.52],"reverse":true,"nice":false,"zero":false},"axis":null},"y":{"datum":-0.0263,"type":"quantitative","scale":{"domain":[-0.07666,2.21968],"nice":false,"zero":false},"axis":null}}},
 {"mark":{"type":"text","text":"t [µs]","angle":270,"font":"DejaVu Sans","fontSize":28,"color":"#151515","align":"center","baseline":"middle"},"encoding":{"x":{"datum":-0.36,"type":"quantitative","scale":{"domain":[-1.81,11.52],"reverse":true,"nice":false,"zero":false},"axis":null},"y":{"datum":0.809,"type":"quantitative","scale":{"domain":[-0.07666,2.21968],"nice":false,"zero":false},"axis":null}}},
 {"mark":{"type":"rule","color":"#151515","strokeWidth":2.6},"encoding":{"x":{"datum":-0.35,"type":"quantitative","scale":{"domain":[-1.81,11.52],"reverse":true,"nice":false,"zero":false},"axis":null},"y":{"datum":0.873,"type":"quantitative","scale":{"domain":[-0.07666,2.21968],"nice":false,"zero":false},"axis":null},"y2":{"datum":0.995}}},
 {"mark":{"type":"point","shape":"M0,-1L0.35,1L-0.35,1Z","size":1156,"filled":true,"color":"#151515","opacity":1},"encoding":{"x":{"datum":-0.35,"type":"quantitative","scale":{"domain":[-1.81,11.52],"reverse":true,"nice":false,"zero":false},"axis":null},"y":{"datum":1.009,"type":"quantitative","scale":{"domain":[-0.07666,2.21968],"nice":false,"zero":false},"axis":null}}},
 {"mark":{"type":"text","text":"voltage at the coil with RC-suppressor","angle":270,"font":"DejaVu Sans","fontSize":30,"color":"#151515","align":"center","baseline":"middle"},"encoding":{"x":{"datum":-1.34,"type":"quantitative","scale":{"domain":[-1.81,11.52],"reverse":true,"nice":false,"zero":false},"axis":null},"y":{"datum":0.467,"type":"quantitative","scale":{"domain":[-0.07666,2.21968],"nice":false,"zero":false},"axis":null}}}
],
"resolve": {"scale": {"x": "independent", "y": "independent"}}
}
